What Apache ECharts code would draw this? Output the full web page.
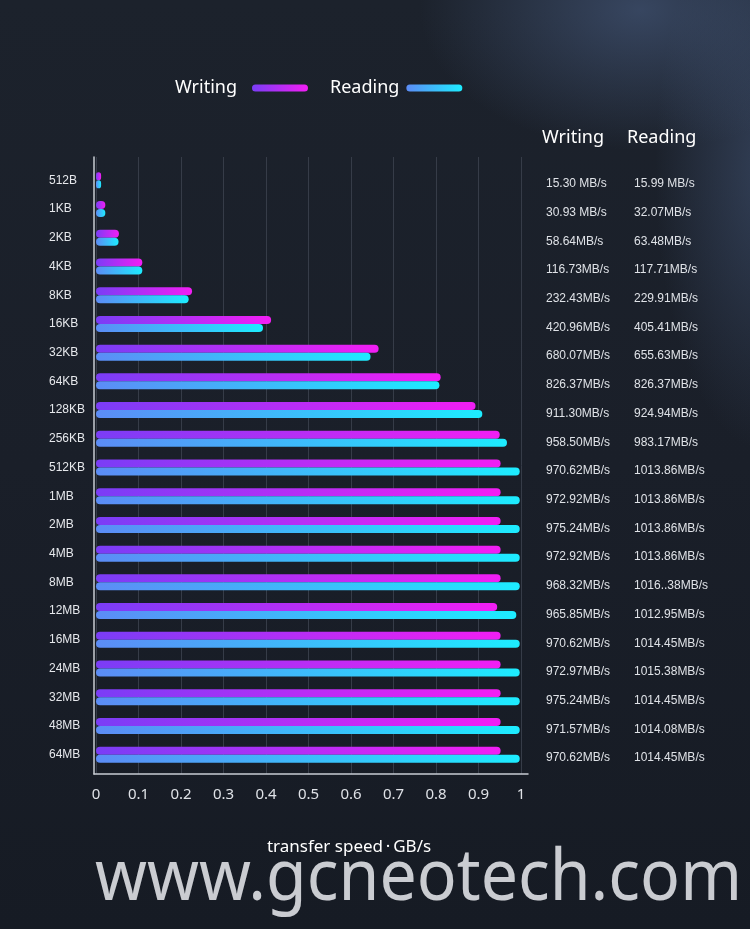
<!DOCTYPE html>
<html>
<head>
<meta charset="utf-8">
<script src="https://cdn.jsdelivr.net/npm/echarts@6.0.0/dist/echarts.min.js"></script>
<style>
html,body{margin:0;padding:0;width:750px;height:929px;overflow:hidden;}
body{
  background:
    radial-gradient(ellipse 220px 140px at 640px 10px, rgba(72,92,128,0.62), rgba(72,92,128,0) 100%),
    radial-gradient(ellipse 110px 280px at 765px 170px, rgba(72,92,128,0.5), rgba(72,92,128,0) 100%),
    linear-gradient(180deg, #1c222c 0%, #1a1f29 50%, #161b24 100%);
}
#c{width:750px;height:929px;}
</style>
</head>
<body>
<div id="c"></div>
<script>
const categories = ['512B','1KB','2KB','4KB','8KB','16KB','32KB','64KB','128KB','256KB','512KB','1MB','2MB','4MB','8MB','12MB','16MB','24MB','32MB','48MB','64MB'];
const writingValues = [0.012,0.022,0.054,0.109,0.226,0.412,0.665,0.811,0.893,0.950,0.952,0.952,0.952,0.952,0.952,0.944,0.952,0.952,0.952,0.952,0.952];
const readingValues = [0.012,0.022,0.053,0.109,0.218,0.393,0.646,0.808,0.909,0.967,0.997,0.997,0.997,0.997,0.997,0.989,0.997,0.997,0.997,0.997,0.997];
const writingText = ['15.30 MB/s','30.93 MB/s','58.64MB/s','116.73MB/s','232.43MB/s','420.96MB/s','680.07MB/s','826.37MB/s','911.30MB/s','958.50MB/s','970.62MB/s','972.92MB/s','975.24MB/s','972.92MB/s','968.32MB/s','965.85MB/s','970.62MB/s','972.97MB/s','975.24MB/s','971.57MB/s','970.62MB/s'];
const readingText = ['15.99 MB/s','32.07MB/s','63.48MB/s','117.71MB/s','229.91MB/s','405.41MB/s','655.63MB/s','826.37MB/s','924.94MB/s','983.17MB/s','1013.86MB/s','1013.86MB/s','1013.86MB/s','1013.86MB/s','1016..38MB/s','1012.95MB/s','1014.45MB/s','1015.38MB/s','1014.45MB/s','1014.08MB/s','1014.45MB/s'];
const seriesNames = ['Writing','Reading'];
const tableHeaders = ['Writing','Reading'];
const axisTitle = 'transfer speed\u2009\u00b7\u2009GB/s';
const watermark = 'www.gcneotech.com';

const FONT = '"Noto Sans", "Open Sans", sans-serif';
const SMALL = '"Liberation Sans", Arial, sans-serif';
const WM_FONT = '72px "Noto Sans", "Open Sans", sans-serif';
const chart = echarts.init(document.getElementById('c'), null, {renderer:'canvas'});

// horizontal squeeze of the watermark so that it spans the same width as in the reference
const mctx = document.createElement('canvas').getContext('2d');
mctx.font = WM_FONT;
const wmScale = 647 / mctx.measureText(watermark).width;

const writeGrad = new echarts.graphic.LinearGradient(0,0,1,0,[{offset:0,color:'#7a3df6'},{offset:1,color:'#f21ef4'}]);
const readGrad = new echarts.graphic.LinearGradient(0,0,1,0,[{offset:0,color:'#5c8cf6'},{offset:1,color:'#1decff'}]);
const capsule = 'path://M3.5,0 H52.5 A3.5,3.5 0 0 1 52.5,7 H3.5 A3.5,3.5 0 0 1 3.5,0 Z';

chart.setOption({
  backgroundColor: 'transparent',
  animation: false,
  textStyle: {fontFamily: FONT},
  title: [
    {text: tableHeaders[0], left: 542, top: 129, padding: 0, textStyle:{color:'#ffffff', fontSize:18, fontWeight:'normal', fontFamily: FONT}},
    {text: tableHeaders[1], left: 627, top: 129, padding: 0, textStyle:{color:'#ffffff', fontSize:18, fontWeight:'normal', fontFamily: FONT}},
    {text: axisTitle, left: 349, top: 839, padding: 0, textAlign: 'center', textStyle:{color:'#ffffff', fontSize:17, fontWeight:'normal', fontFamily: FONT}}
  ],
  legend: {
    data: [
      {name: seriesNames[0], textStyle:{padding:[0,10,0,0]}},
      {name: seriesNames[1], textStyle:{padding:[0,2,0,0]}}
    ],
    left: 175, top: 79, padding: 0,
    orient: 'horizontal',
    align: 'right',
    itemWidth: 56, itemHeight: 7,
    itemGap: 22,
    icon: capsule,
    textStyle: {color:'#ffffff', fontSize:18, fontFamily: FONT}
  },
  grid: [
    {left: 96, right: 229, top: 157, bottom: 155, outerBoundsMode: 'none'},
    {left: 96, right: 229, top: 166, bottom: 160, outerBoundsMode: 'none'},
    {left: 94, right: 222, top: 157, bottom: 155, outerBoundsMode: 'none'}
  ],
  xAxis: [
    {gridIndex:0, type:'value', min:0, max:1, interval:0.1,
     axisLine:{show:false}, axisTick:{show:false},
     splitLine:{show:true, lineStyle:{color:'#363c48', width:1}},
     axisLabel:{color:'#dfe2e7', fontSize:15, margin:13, fontFamily: FONT}},
    {gridIndex:1, type:'value', min:0, max:1, show:false},
    {gridIndex:2, type:'value', min:0, max:1,
     axisLine:{show:true, onZero:false, lineStyle:{color:'#c8ccd3', width:1.5}},
     axisTick:{show:false}, axisLabel:{show:false}, splitLine:{show:false}}
  ],
  yAxis: [
    {gridIndex:0, type:'value', min:0, max:1, show:false},
    {gridIndex:1, type:'category', data: categories, inverse:true,
     axisLine:{show:false}, axisTick:{show:false}, splitLine:{show:false},
     axisLabel:{color:'#e6e8ec', fontSize:12, align:'left', margin:47, fontFamily: SMALL}},
    {gridIndex:2, type:'value', min:0, max:1,
     axisLine:{show:true, onZero:false, lineStyle:{color:'#c8ccd3', width:1.5}},
     axisTick:{show:false}, axisLabel:{show:false}, splitLine:{show:false}},
    {gridIndex:1, type:'category', data: categories, inverse:true, position:'right',
     axisLine:{show:false}, axisTick:{show:false}, splitLine:{show:false},
     axisLabel:{margin:25, align:'left', padding:[7,0,0,0],
       formatter: function(v, i){ return '{w|' + writingText[i] + '}{r|' + readingText[i] + '}'; },
       rich:{
         w:{width:88, color:'#dfe2e7', fontSize:12, fontFamily: SMALL},
         r:{color:'#dfe2e7', fontSize:12, fontFamily: SMALL}
       }}}
  ],
  graphic: [
    {type:'text', x: 95, y: 843, scaleX: wmScale, silent:true,
     style:{text: watermark, fill:'rgba(222,224,228,0.9)', font: WM_FONT}}
  ],
  series: [
    {name: seriesNames[0], type:'bar', xAxisIndex:1, yAxisIndex:1, data: writingValues,
     barWidth: 8, barGap:'0%', itemStyle:{color: writeGrad, borderRadius:4}},
    {name: seriesNames[1], type:'bar', xAxisIndex:1, yAxisIndex:1, data: readingValues,
     barWidth: 8, barGap:'0%', itemStyle:{color: readGrad, borderRadius:4}}
  ]
});
</script>
</body>
</html>
